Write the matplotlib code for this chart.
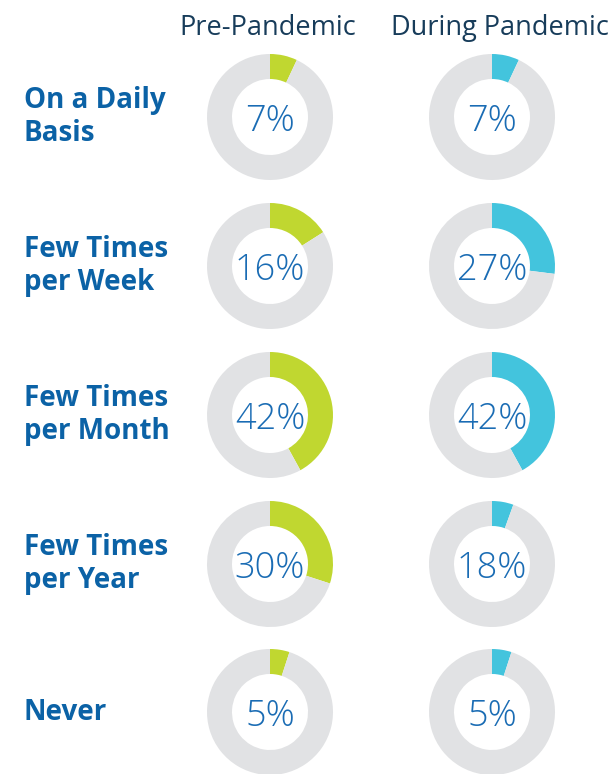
import matplotlib.pyplot as plt

# survey answers, one row per frequency
categories = ['On a Daily\nBasis', 'Few Times\nper Week', 'Few Times\nper Month',
              'Few Times\nper Year', 'Never']
periods = ['Pre-Pandemic', 'During Pandemic']
pre_labels = ['7%', '16%', '42%', '30%', '5%']
during_labels = ['7%', '27%', '42%', '18%', '5%']
# arc sizes as drawn in the source graphic (percent)
pre_arcs = [7, 16, 42, 30, 5]
during_arcs = [7, 27, 42, 5.5, 5]

GREEN = '#C0D730'
CYAN = '#43C4DD'
GRAY = '#E1E2E4'
BLUE = '#1A6CB4'
LABEL_BLUE = '#0B62A6'
NAVY = '#173C5A'

W, H = 614, 774
fig = plt.figure(figsize=(W / 100, H / 100), dpi=100)
ax = fig.add_axes([0, 0, 1, 1])

col_x = [270, 492]
row_y = [H - 117, H - 266, H - 415, H - 564, H - 712]
r_out, ring = 63, 25

for cx, arcs, labels, color in [(col_x[0], pre_arcs, pre_labels, GREEN),
                                 (col_x[1], during_arcs, during_labels, CYAN)]:
    for cy, v, lab in zip(row_y, arcs, labels):
        ax.pie([v, 100 - v], colors=[color, GRAY], startangle=90, counterclock=False,
               center=(cx, cy), radius=r_out,
               wedgeprops=dict(width=ring, linewidth=0))
        ax.text(cx, cy - 14, lab, ha='center', va='baseline', fontsize=26,
                color=BLUE, family='Open Sans', fontweight='light')

for cy, cat in zip(row_y, categories):
    ax.text(24, cy, cat, ha='left', va='center', fontsize=20, fontweight='bold',
            color=LABEL_BLUE, family='Open Sans', linespacing=1.22)

ax.text(268, H - 35, periods[0], ha='center', va='baseline', fontsize=19.5,
        color=NAVY, family='Open Sans')
ax.text(500, H - 35, periods[1], ha='center', va='baseline', fontsize=19.5,
        color=NAVY, family='Open Sans')

ax.set_xlim(0, W)
ax.set_ylim(0, H)
ax.set_aspect('auto')
ax.axis('off')

fig.savefig('out.png', dpi=100)
